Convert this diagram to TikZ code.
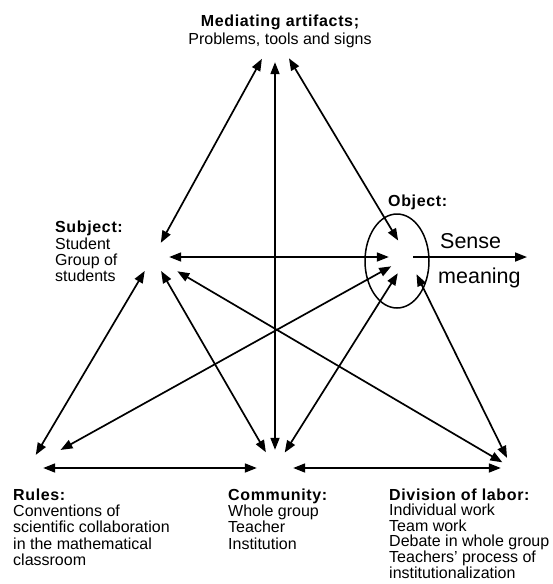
\documentclass[tikz,border=0pt]{standalone}
\usepackage{fontspec}
\setmainfont{Liberation Sans}
\usetikzlibrary{arrows.meta}
\newcommand{\hd}[1]{{\bfseries\addfontfeature{LetterSpace=4}#1}}
\tikzset{
  vertex/.style={circle, inner sep=0pt, minimum size=#1},
  txt/.style={anchor=north west, inner sep=0pt, align=left,
              font=\fontsize{16}{16.4}\selectfont},
  bigtxt/.style={anchor=base west, inner sep=0pt,
                 font=\fontsize{21.5}{24}\selectfont},
  arr/.style={{Triangle[length=12pt,width=9pt]}-{Triangle[length=12pt,width=9pt]},
              line width=1.7pt},
  onearr/.style={-{Triangle[length=12pt,width=9pt]}, line width=1.7pt},
}
\begin{document}
\begin{tikzpicture}[x=1pt, y=-1pt]
  \useasboundingbox (0,0) rectangle (553,584);

  % Corners of the triangle
  \node[vertex=54pt] (M) at (275,35)  {};
  \node[vertex=32pt] (S) at (153,257) {};
  \node[vertex=38pt] (O) at (408,257) {};
  \node[vertex=30pt] (R) at (28,468)  {};
  \node[vertex=36pt] (C) at (275,468) {};
  \node[vertex=22pt] (D) at (512,468) {};
  \coordinate (sense) at (527,257);

  % Texts
  \node[txt, anchor=north, align=center, font=\fontsize{16}{18}\selectfont]
    (medtxt) at (280,14.5) {\hd{Mediating artifacts;}\\Problems, tools and signs};
  \node[txt] (subtxt) at (55,221) {\hd{Subject:}\\Student\\Group of\\students};
  \node[txt] (objtxt) at (388,195) {\hd{Object:}};
  \node[bigtxt] (sensetxt) at (440,248) {Sense};
  \node[bigtxt] (meantxt)  at (438,283) {meaning};
  \node[txt] (rultxt) at (13,488.3)
    {\hd{Rules:}\\Conventions of\\scientific collaboration\\in the mathematical\\classroom};
  \node[txt] (comtxt) at (228,488.3)
    {\hd{Community:}\\Whole group\\Teacher\\Institution};
  \node[txt, font=\fontsize{16}{15.6}\selectfont] (divtxt) at (389,488.3)
    {\hd{Division of labor:}\\Individual work\\Team work\\Debate in whole group\\Teachers' process of\\institutionalization};

  % Object ring
  \draw[line width=1.5pt] (397,261) ellipse [x radius=32pt, y radius=47pt];

  % Arrows
  \draw[arr] (M) -- (S);
  \draw[arr] (M) -- (C);
  \draw[arr] (M) -- (O);
  \draw[arr] (S) -- (O);
  \draw[arr] (S) -- (R);
  \draw[arr] (S) -- (C);
  \draw[arr, shorten <=12pt] (S) -- (D);
  \draw[arr, shorten >=22pt] (O) -- (R);
  \draw[arr] (O) -- (C);
  \draw[arr] (O) -- (D);
  \draw[arr] (R) -- (C);
  \draw[arr] (C) -- (D);
  \draw[onearr, shorten <=5pt] (O.center) -- (sense);
\end{tikzpicture}
\end{document}
